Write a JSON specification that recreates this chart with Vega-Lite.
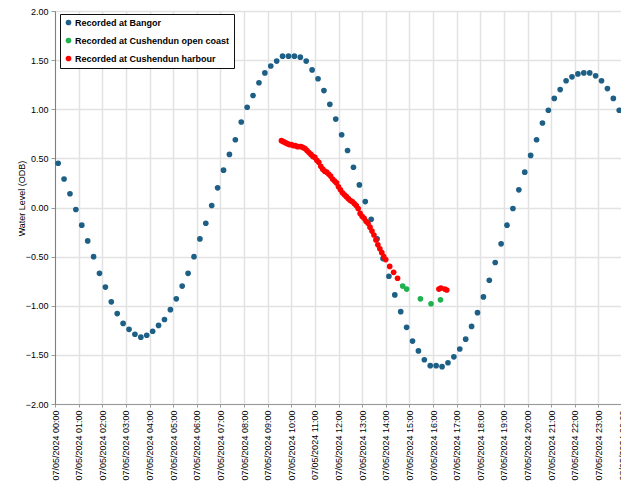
{
  "$schema": "https://vega.github.io/schema/vega-lite/v6.json",
  "width": 567,
  "height": 393,
  "autosize": {"type": "none"},
  "padding": {"left": 55, "top": 11, "right": 0, "bottom": 82},
  "background": "white",
  "config": {
    "font": "Liberation Sans",
    "view": {"stroke": "#9a9a9a", "strokeWidth": 1}
  },
  "data": {
    "values": [
      {"t": "2024-05-07T00:08", "v": 0.45, "s": "Recorded at Bangor"},
      {"t": "2024-05-07T00:23", "v": 0.29, "s": "Recorded at Bangor"},
      {"t": "2024-05-07T00:38", "v": 0.14, "s": "Recorded at Bangor"},
      {"t": "2024-05-07T00:53", "v": -0.02, "s": "Recorded at Bangor"},
      {"t": "2024-05-07T01:08", "v": -0.18, "s": "Recorded at Bangor"},
      {"t": "2024-05-07T01:23", "v": -0.34, "s": "Recorded at Bangor"},
      {"t": "2024-05-07T01:38", "v": -0.50, "s": "Recorded at Bangor"},
      {"t": "2024-05-07T01:53", "v": -0.67, "s": "Recorded at Bangor"},
      {"t": "2024-05-07T02:08", "v": -0.81, "s": "Recorded at Bangor"},
      {"t": "2024-05-07T02:23", "v": -0.96, "s": "Recorded at Bangor"},
      {"t": "2024-05-07T02:38", "v": -1.08, "s": "Recorded at Bangor"},
      {"t": "2024-05-07T02:53", "v": -1.18, "s": "Recorded at Bangor"},
      {"t": "2024-05-07T03:08", "v": -1.24, "s": "Recorded at Bangor"},
      {"t": "2024-05-07T03:23", "v": -1.29, "s": "Recorded at Bangor"},
      {"t": "2024-05-07T03:38", "v": -1.32, "s": "Recorded at Bangor"},
      {"t": "2024-05-07T03:53", "v": -1.30, "s": "Recorded at Bangor"},
      {"t": "2024-05-07T04:08", "v": -1.26, "s": "Recorded at Bangor"},
      {"t": "2024-05-07T04:23", "v": -1.20, "s": "Recorded at Bangor"},
      {"t": "2024-05-07T04:38", "v": -1.14, "s": "Recorded at Bangor"},
      {"t": "2024-05-07T04:53", "v": -1.04, "s": "Recorded at Bangor"},
      {"t": "2024-05-07T05:08", "v": -0.93, "s": "Recorded at Bangor"},
      {"t": "2024-05-07T05:23", "v": -0.80, "s": "Recorded at Bangor"},
      {"t": "2024-05-07T05:38", "v": -0.67, "s": "Recorded at Bangor"},
      {"t": "2024-05-07T05:53", "v": -0.50, "s": "Recorded at Bangor"},
      {"t": "2024-05-07T06:08", "v": -0.32, "s": "Recorded at Bangor"},
      {"t": "2024-05-07T06:23", "v": -0.16, "s": "Recorded at Bangor"},
      {"t": "2024-05-07T06:38", "v": 0.02, "s": "Recorded at Bangor"},
      {"t": "2024-05-07T06:53", "v": 0.20, "s": "Recorded at Bangor"},
      {"t": "2024-05-07T07:08", "v": 0.38, "s": "Recorded at Bangor"},
      {"t": "2024-05-07T07:23", "v": 0.54, "s": "Recorded at Bangor"},
      {"t": "2024-05-07T07:38", "v": 0.69, "s": "Recorded at Bangor"},
      {"t": "2024-05-07T07:53", "v": 0.87, "s": "Recorded at Bangor"},
      {"t": "2024-05-07T08:08", "v": 1.02, "s": "Recorded at Bangor"},
      {"t": "2024-05-07T08:23", "v": 1.14, "s": "Recorded at Bangor"},
      {"t": "2024-05-07T08:38", "v": 1.27, "s": "Recorded at Bangor"},
      {"t": "2024-05-07T08:53", "v": 1.37, "s": "Recorded at Bangor"},
      {"t": "2024-05-07T09:08", "v": 1.44, "s": "Recorded at Bangor"},
      {"t": "2024-05-07T09:23", "v": 1.49, "s": "Recorded at Bangor"},
      {"t": "2024-05-07T09:38", "v": 1.54, "s": "Recorded at Bangor"},
      {"t": "2024-05-07T09:53", "v": 1.54, "s": "Recorded at Bangor"},
      {"t": "2024-05-07T10:08", "v": 1.54, "s": "Recorded at Bangor"},
      {"t": "2024-05-07T10:23", "v": 1.53, "s": "Recorded at Bangor"},
      {"t": "2024-05-07T10:38", "v": 1.49, "s": "Recorded at Bangor"},
      {"t": "2024-05-07T10:53", "v": 1.40, "s": "Recorded at Bangor"},
      {"t": "2024-05-07T11:08", "v": 1.31, "s": "Recorded at Bangor"},
      {"t": "2024-05-07T11:23", "v": 1.19, "s": "Recorded at Bangor"},
      {"t": "2024-05-07T11:38", "v": 1.05, "s": "Recorded at Bangor"},
      {"t": "2024-05-07T11:53", "v": 0.90, "s": "Recorded at Bangor"},
      {"t": "2024-05-07T12:08", "v": 0.74, "s": "Recorded at Bangor"},
      {"t": "2024-05-07T12:23", "v": 0.58, "s": "Recorded at Bangor"},
      {"t": "2024-05-07T12:38", "v": 0.41, "s": "Recorded at Bangor"},
      {"t": "2024-05-07T12:53", "v": 0.23, "s": "Recorded at Bangor"},
      {"t": "2024-05-07T13:08", "v": 0.06, "s": "Recorded at Bangor"},
      {"t": "2024-05-07T13:23", "v": -0.12, "s": "Recorded at Bangor"},
      {"t": "2024-05-07T13:38", "v": -0.32, "s": "Recorded at Bangor"},
      {"t": "2024-05-07T13:53", "v": -0.52, "s": "Recorded at Bangor"},
      {"t": "2024-05-07T14:08", "v": -0.70, "s": "Recorded at Bangor"},
      {"t": "2024-05-07T14:23", "v": -0.89, "s": "Recorded at Bangor"},
      {"t": "2024-05-07T14:38", "v": -1.06, "s": "Recorded at Bangor"},
      {"t": "2024-05-07T14:53", "v": -1.22, "s": "Recorded at Bangor"},
      {"t": "2024-05-07T15:08", "v": -1.36, "s": "Recorded at Bangor"},
      {"t": "2024-05-07T15:23", "v": -1.46, "s": "Recorded at Bangor"},
      {"t": "2024-05-07T15:38", "v": -1.55, "s": "Recorded at Bangor"},
      {"t": "2024-05-07T15:53", "v": -1.61, "s": "Recorded at Bangor"},
      {"t": "2024-05-07T16:08", "v": -1.61, "s": "Recorded at Bangor"},
      {"t": "2024-05-07T16:23", "v": -1.62, "s": "Recorded at Bangor"},
      {"t": "2024-05-07T16:38", "v": -1.58, "s": "Recorded at Bangor"},
      {"t": "2024-05-07T16:53", "v": -1.52, "s": "Recorded at Bangor"},
      {"t": "2024-05-07T17:08", "v": -1.44, "s": "Recorded at Bangor"},
      {"t": "2024-05-07T17:23", "v": -1.34, "s": "Recorded at Bangor"},
      {"t": "2024-05-07T17:38", "v": -1.21, "s": "Recorded at Bangor"},
      {"t": "2024-05-07T17:53", "v": -1.07, "s": "Recorded at Bangor"},
      {"t": "2024-05-07T18:08", "v": -0.91, "s": "Recorded at Bangor"},
      {"t": "2024-05-07T18:23", "v": -0.74, "s": "Recorded at Bangor"},
      {"t": "2024-05-07T18:38", "v": -0.56, "s": "Recorded at Bangor"},
      {"t": "2024-05-07T18:53", "v": -0.37, "s": "Recorded at Bangor"},
      {"t": "2024-05-07T19:08", "v": -0.18, "s": "Recorded at Bangor"},
      {"t": "2024-05-07T19:23", "v": -0.01, "s": "Recorded at Bangor"},
      {"t": "2024-05-07T19:38", "v": 0.18, "s": "Recorded at Bangor"},
      {"t": "2024-05-07T19:53", "v": 0.36, "s": "Recorded at Bangor"},
      {"t": "2024-05-07T20:08", "v": 0.53, "s": "Recorded at Bangor"},
      {"t": "2024-05-07T20:23", "v": 0.69, "s": "Recorded at Bangor"},
      {"t": "2024-05-07T20:38", "v": 0.86, "s": "Recorded at Bangor"},
      {"t": "2024-05-07T20:53", "v": 0.99, "s": "Recorded at Bangor"},
      {"t": "2024-05-07T21:08", "v": 1.11, "s": "Recorded at Bangor"},
      {"t": "2024-05-07T21:23", "v": 1.20, "s": "Recorded at Bangor"},
      {"t": "2024-05-07T21:38", "v": 1.29, "s": "Recorded at Bangor"},
      {"t": "2024-05-07T21:53", "v": 1.33, "s": "Recorded at Bangor"},
      {"t": "2024-05-07T22:08", "v": 1.36, "s": "Recorded at Bangor"},
      {"t": "2024-05-07T22:23", "v": 1.37, "s": "Recorded at Bangor"},
      {"t": "2024-05-07T22:38", "v": 1.37, "s": "Recorded at Bangor"},
      {"t": "2024-05-07T22:53", "v": 1.34, "s": "Recorded at Bangor"},
      {"t": "2024-05-07T23:08", "v": 1.29, "s": "Recorded at Bangor"},
      {"t": "2024-05-07T23:23", "v": 1.21, "s": "Recorded at Bangor"},
      {"t": "2024-05-07T23:38", "v": 1.11, "s": "Recorded at Bangor"},
      {"t": "2024-05-07T23:53", "v": 0.99, "s": "Recorded at Bangor"},
      {"t": "2024-05-07T14:43", "v": -0.80, "s": "Recorded at Cushendun open coast"},
      {"t": "2024-05-07T14:53", "v": -0.83, "s": "Recorded at Cushendun open coast"},
      {"t": "2024-05-07T15:28", "v": -0.93, "s": "Recorded at Cushendun open coast"},
      {"t": "2024-05-07T15:55", "v": -0.98, "s": "Recorded at Cushendun open coast"},
      {"t": "2024-05-07T16:19", "v": -0.94, "s": "Recorded at Cushendun open coast"},
      {"t": "2024-05-07T09:35", "v": 0.68, "s": "Recorded at Cushendun harbour"},
      {"t": "2024-05-07T09:40", "v": 0.67, "s": "Recorded at Cushendun harbour"},
      {"t": "2024-05-07T09:45", "v": 0.66, "s": "Recorded at Cushendun harbour"},
      {"t": "2024-05-07T09:50", "v": 0.65, "s": "Recorded at Cushendun harbour"},
      {"t": "2024-05-07T09:55", "v": 0.64, "s": "Recorded at Cushendun harbour"},
      {"t": "2024-05-07T10:00", "v": 0.64, "s": "Recorded at Cushendun harbour"},
      {"t": "2024-05-07T10:05", "v": 0.63, "s": "Recorded at Cushendun harbour"},
      {"t": "2024-05-07T10:10", "v": 0.63, "s": "Recorded at Cushendun harbour"},
      {"t": "2024-05-07T10:15", "v": 0.62, "s": "Recorded at Cushendun harbour"},
      {"t": "2024-05-07T10:20", "v": 0.62, "s": "Recorded at Cushendun harbour"},
      {"t": "2024-05-07T10:25", "v": 0.62, "s": "Recorded at Cushendun harbour"},
      {"t": "2024-05-07T10:30", "v": 0.61, "s": "Recorded at Cushendun harbour"},
      {"t": "2024-05-07T10:35", "v": 0.60, "s": "Recorded at Cushendun harbour"},
      {"t": "2024-05-07T10:40", "v": 0.58, "s": "Recorded at Cushendun harbour"},
      {"t": "2024-05-07T10:45", "v": 0.56, "s": "Recorded at Cushendun harbour"},
      {"t": "2024-05-07T10:50", "v": 0.54, "s": "Recorded at Cushendun harbour"},
      {"t": "2024-05-07T10:55", "v": 0.52, "s": "Recorded at Cushendun harbour"},
      {"t": "2024-05-07T11:00", "v": 0.51, "s": "Recorded at Cushendun harbour"},
      {"t": "2024-05-07T11:05", "v": 0.48, "s": "Recorded at Cushendun harbour"},
      {"t": "2024-05-07T11:10", "v": 0.46, "s": "Recorded at Cushendun harbour"},
      {"t": "2024-05-07T11:15", "v": 0.42, "s": "Recorded at Cushendun harbour"},
      {"t": "2024-05-07T11:20", "v": 0.39, "s": "Recorded at Cushendun harbour"},
      {"t": "2024-05-07T11:25", "v": 0.37, "s": "Recorded at Cushendun harbour"},
      {"t": "2024-05-07T11:30", "v": 0.36, "s": "Recorded at Cushendun harbour"},
      {"t": "2024-05-07T11:35", "v": 0.34, "s": "Recorded at Cushendun harbour"},
      {"t": "2024-05-07T11:40", "v": 0.32, "s": "Recorded at Cushendun harbour"},
      {"t": "2024-05-07T11:45", "v": 0.29, "s": "Recorded at Cushendun harbour"},
      {"t": "2024-05-07T11:50", "v": 0.27, "s": "Recorded at Cushendun harbour"},
      {"t": "2024-05-07T11:55", "v": 0.25, "s": "Recorded at Cushendun harbour"},
      {"t": "2024-05-07T12:00", "v": 0.21, "s": "Recorded at Cushendun harbour"},
      {"t": "2024-05-07T12:05", "v": 0.18, "s": "Recorded at Cushendun harbour"},
      {"t": "2024-05-07T12:10", "v": 0.15, "s": "Recorded at Cushendun harbour"},
      {"t": "2024-05-07T12:15", "v": 0.13, "s": "Recorded at Cushendun harbour"},
      {"t": "2024-05-07T12:20", "v": 0.11, "s": "Recorded at Cushendun harbour"},
      {"t": "2024-05-07T12:25", "v": 0.09, "s": "Recorded at Cushendun harbour"},
      {"t": "2024-05-07T12:30", "v": 0.07, "s": "Recorded at Cushendun harbour"},
      {"t": "2024-05-07T12:35", "v": 0.06, "s": "Recorded at Cushendun harbour"},
      {"t": "2024-05-07T12:40", "v": 0.04, "s": "Recorded at Cushendun harbour"},
      {"t": "2024-05-07T12:45", "v": 0.02, "s": "Recorded at Cushendun harbour"},
      {"t": "2024-05-07T12:50", "v": -0.01, "s": "Recorded at Cushendun harbour"},
      {"t": "2024-05-07T12:55", "v": -0.06, "s": "Recorded at Cushendun harbour"},
      {"t": "2024-05-07T13:00", "v": -0.09, "s": "Recorded at Cushendun harbour"},
      {"t": "2024-05-07T13:05", "v": -0.11, "s": "Recorded at Cushendun harbour"},
      {"t": "2024-05-07T13:10", "v": -0.14, "s": "Recorded at Cushendun harbour"},
      {"t": "2024-05-07T13:15", "v": -0.16, "s": "Recorded at Cushendun harbour"},
      {"t": "2024-05-07T13:20", "v": -0.20, "s": "Recorded at Cushendun harbour"},
      {"t": "2024-05-07T13:25", "v": -0.24, "s": "Recorded at Cushendun harbour"},
      {"t": "2024-05-07T13:30", "v": -0.28, "s": "Recorded at Cushendun harbour"},
      {"t": "2024-05-07T13:35", "v": -0.33, "s": "Recorded at Cushendun harbour"},
      {"t": "2024-05-07T13:40", "v": -0.38, "s": "Recorded at Cushendun harbour"},
      {"t": "2024-05-07T13:45", "v": -0.42, "s": "Recorded at Cushendun harbour"},
      {"t": "2024-05-07T13:50", "v": -0.46, "s": "Recorded at Cushendun harbour"},
      {"t": "2024-05-07T13:55", "v": -0.50, "s": "Recorded at Cushendun harbour"},
      {"t": "2024-05-07T14:00", "v": -0.53, "s": "Recorded at Cushendun harbour"},
      {"t": "2024-05-07T14:10", "v": -0.60, "s": "Recorded at Cushendun harbour"},
      {"t": "2024-05-07T14:20", "v": -0.66, "s": "Recorded at Cushendun harbour"},
      {"t": "2024-05-07T14:30", "v": -0.72, "s": "Recorded at Cushendun harbour"},
      {"t": "2024-05-07T16:15", "v": -0.83, "s": "Recorded at Cushendun harbour"},
      {"t": "2024-05-07T16:20", "v": -0.82, "s": "Recorded at Cushendun harbour"},
      {"t": "2024-05-07T16:30", "v": -0.83, "s": "Recorded at Cushendun harbour"},
      {"t": "2024-05-07T16:35", "v": -0.84, "s": "Recorded at Cushendun harbour"}
    ]
  },
  "mark": {"type": "circle", "opacity": 1},
  "encoding": {
    "x": {
      "field": "t",
      "type": "temporal",
      "scale": {
        "domain": [
          {"year": 2024, "month": 5, "date": 7, "hours": 0},
          {"year": 2024, "month": 5, "date": 8, "hours": 0}
        ],
        "nice": false
      },
      "axis": {
        "title": null,
        "format": "%d/%m/%Y %H:%M",
        "tickCount": 24,
        "labelAngle": -90,
        "labelFontSize": 9,
        "labelColor": "#000",
        "labelPadding": 3,
        "labelOverlap": false,
        "labelBound": false,
        "labelFlush": false,
        "tickSize": 3,
        "tickColor": "#9a9a9a",
        "domainColor": "#9a9a9a",
        "gridColor": "#e2e2e2",
        "gridWidth": 1.5
      }
    },
    "y": {
      "field": "v",
      "type": "quantitative",
      "scale": {"domain": [-2, 2], "nice": false, "zero": false},
      "axis": {
        "title": "Water Level (ODB)",
        "titleFontSize": 9,
        "titleFontWeight": "normal",
        "titleColor": "#000",
        "titleX": -34,
        "titleY": 187,
        "titleAngle": -90,
        "titleAlign": "center",
        "titleBaseline": "middle",
        "values": [-2, -1.5, -1, -0.5, 0, 0.5, 1, 1.5, 2],
        "format": ".2f",
        "labelFontSize": 9,
        "labelColor": "#000",
        "labelPadding": 3,
        "tickSize": 4,
        "tickColor": "#9a9a9a",
        "domainColor": "#808080",
        "gridColor": "#e2e2e2",
        "gridWidth": 1.5
      }
    },
    "size": {
      "field": "s",
      "type": "nominal",
      "scale": {
        "domain": ["Recorded at Bangor", "Recorded at Cushendun open coast", "Recorded at Cushendun harbour"],
        "range": [32, 32, 44]
      },
      "legend": null
    },
    "color": {
      "field": "s",
      "type": "nominal",
      "sort": null,
      "scale": {
        "domain": ["Recorded at Bangor", "Recorded at Cushendun open coast", "Recorded at Cushendun harbour"],
        "range": ["#1d5f85", "#1fb24f", "#ff0000"]
      },
      "legend": {
        "title": null,
        "orient": "none",
        "legendX": 5,
        "legendY": 3,
        "direction": "vertical",
        "fillColor": "white",
        "strokeColor": "#111",
        "padding": 4,
        "rowPadding": 8,
        "symbolType": "circle",
        "symbolSize": 24,
        "symbolOffset": 0,
        "labelOffset": 2,
        "labelFontSize": 9,
        "labelFontWeight": "bold",
        "labelColor": "#000",
        "labelLimit": 300
      }
    }
  }
}
